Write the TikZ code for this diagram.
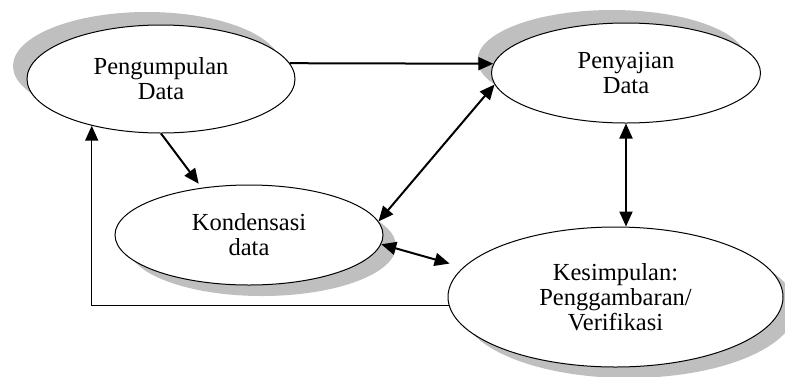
\documentclass[tikz,border=0pt]{standalone}
\usepackage{fontspec}
\setmainfont{Liberation Serif}
\usetikzlibrary{shapes.geometric,shadows,arrows.meta}
\begin{document}
\begin{tikzpicture}[x=1pt,y=-1pt,font=\fontsize{24.5}{25}\selectfont,
	tahap/.style={ellipse,draw,line width=1pt,fill=white,inner sep=0pt,align=center},
	bayangkiri/.style={drop shadow={shadow xshift=-14pt,shadow yshift=13pt,fill=black!25,opacity=1}},
	bayangkanan/.style={drop shadow={shadow xshift=13pt,shadow yshift=-11pt,fill=black!25,opacity=1}},
	panah/.style={line width=2pt,-{Triangle[length=15pt,width=13pt]}},
	panahdua/.style={line width=2pt,{Triangle[length=15pt,width=13pt]}-{Triangle[length=15pt,width=13pt]}}]
	\useasboundingbox (0,0) rectangle (785,376);
	\node[tahap,bayangkiri,minimum width=268pt,minimum height=108pt] (kumpul) at (161,79) {Pengumpulan\\Data};
	\node[tahap,bayangkiri,minimum width=269pt,minimum height=100pt] (saji) at (626,73) {Penyajian\\Data};
	\node[tahap,bayangkanan,minimum width=268pt,minimum height=100pt] (kondensasi) at (249,235) {Kondensasi\\data};
	\node[tahap,bayangkanan,minimum width=335pt,minimum height=140pt] (simpul) at (615.5,297) {Kesimpulan:\\Penggambaran/\\Verifikasi};
	\draw[panah] (kumpul.7)--(saji.176);
	\draw[panah,shorten >=5pt] (kumpul.south)--(kondensasi.135);
	\draw[panahdua] (kondensasi.6)--(saji.185);
	\draw[panahdua] (saji.south)--(saji.south |- simpul.north);
	\draw[panahdua,shorten >=14pt] (kondensasi.-4)--(simpul.169);
	\draw[line width=1.5pt,-{Triangle[length=15pt,width=13pt]}] (simpul.183)-|(kumpul.214);
\end{tikzpicture}
\end{document}
